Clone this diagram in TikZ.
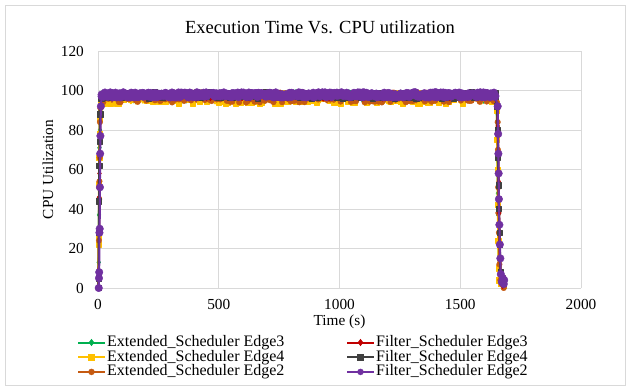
\documentclass[tikz,border=0pt]{standalone}
\usepackage{fontspec}
\setmainfont{Liberation Serif}
\usetikzlibrary{plotmarks}
\definecolor{cgreen}{HTML}{00B050}
\definecolor{cred}{HTML}{C00000}
\definecolor{cyellow}{HTML}{FFC000}
\definecolor{cgray}{HTML}{404040}
\definecolor{corange}{HTML}{C55A11}
\definecolor{cpurple}{HTML}{7030A0}
\definecolor{gridc}{HTML}{D9D9D9}
\newcommand\myseries[9]{%
  \pgfmathsetseed{#4}%
  \tikzset{sline/.style={#1, line width=2pt, line join=round, mark=#2, mark size=#3,
      mark options={solid, fill=#1, draw=#1, line width=0.4pt}}}%
  \draw[sline] plot coordinates {#7};
  \draw[sline] plot[domain=15:1645, samples=#9] (\x, {#5+#6*rand});
  \draw[sline] plot coordinates {#8};
}
\begin{document}
\begin{tikzpicture}[x=1pt,y=1pt,
  gridline/.style={gridc, line width=0.9pt},
  ticklab/.style={font=\fontsize{15.3}{16}\selectfont, inner sep=0pt},
  legtext/.style={font=\fontsize{16}{17}\selectfont, anchor=west, inner sep=0pt},
  legline/.style={line width=2pt}]
\useasboundingbox (0,0) rectangle (631,386);
\draw[gridc, line width=0.9pt] (5.5,0.5) rectangle (625.5,380.5);
\node[font=\fontsize{18.5}{20}\selectfont, inner sep=0pt] (title) at (320,359) {Execution Time Vs. CPU utilization};
% y tick labels
\foreach \v/\n in {0/a,20/b,40/c,60/d,80/e,100/f,120/g}
  \node[ticklab, anchor=east] (y\n) at (84,{98+\v*1.975}) {\v};
\foreach \t/\n in {0/a,500/b,1000/c,1500/d,2000/e}
  \node[ticklab] (x\n) at ({98+\t*0.2415},82) {\t};
\node[ticklab] (xlab) at (339.5,64) {Time (s)};
\node[ticklab, rotate=90] (ylab) at (48,216.5) {CPU Utilization};
\begin{scope}[shift={(98,98)}, x=0.2415pt, y=1.975pt]
  \foreach \v in {0,20,...,120} \draw[gridline] (0,\v) -- (2000,\v);
  \foreach \t in {0,500,...,2000} \draw[gridline] (\t,0) -- (\t,120);
  % Extended Edge3 (green)
  \myseries{cgreen}{diamond*}{2.6pt}{11}{97}{2.3}
    {(3,0) (3,13) (4,37) (5,54) (6,71) (8,80) (9,90) (12,95) (15,97)}
    {(1645,97) (1650,93) (1653,78) (1654,65) (1656,48) (1657,37) (1658,22) (1660,10) (1665,4) (1670,2) (1678,1)}{200}
  % Extended Edge4 (yellow)
  \myseries{cyellow}{square*}{2.6pt}{23}{96.2}{2.9}
    {(2,0) (2,22) (3,26) (4,52) (5,66) (6,78) (7,86) (10,93) (15,96)}
    {(1645,96) (1651,90) (1652,75) (1654,60) (1655,42) (1657,24) (1658,10) (1660,4) (1668,2) (1675,5) (1680,1)}{230}
  % Extended Edge2 (orange)
  \myseries{corange}{*}{2.8pt}{37}{96.5}{2.6}
    {(3,0) (4,24) (5,45) (6,54) (7,66) (8,84) (10,91) (13,96)}
    {(1645,97) (1652,94) (1655,84) (1656,70) (1657,51) (1658,38) (1660,28) (1662,12) (1666,4) (1672,2) (1680,0)}{230}
  % Filter Edge3 (red)
  \myseries{cred}{diamond*}{2.6pt}{41}{97.5}{1.7}
    {(2,0) (3,9) (4,27) (5,46) (6,58) (8,76) (10,89) (14,96)}
    {(1645,97) (1652,91) (1655,82) (1657,67) (1659,54) (1661,38) (1663,27) (1665,8) (1670,3) (1676,1)}{200}
  % Filter Edge4 (gray)
  \myseries{cgray}{square*}{2.6pt}{53}{97.6}{1.6}
    {(2,0) (2,5) (3,28) (4,44) (5,62) (7,74) (9,88) (13,96)}
    {(1645,97) (1652,92) (1655,80) (1656,66) (1658,52) (1660,40) (1662,28) (1664,22) (1666,8) (1670,5) (1676,3) (1680,2)}{200}
  % Filter Edge2 (purple)
  \myseries{cpurple}{*}{3.8pt}{67}{97.8}{1.3}
    {(3,0) (4,5) (5,8) (6,28) (7,30) (8,51) (9,68) (10,77) (12,92) (15,97)}
    {(1645,97) (1655,92) (1657,78) (1658,68) (1659,58) (1660,45) (1662,32) (1664,22) (1666,15) (1668,7) (1672,3) (1676,5) (1680,2) (1682,4)}{600}
\end{scope}
% legend
\foreach \c/\m/\s/\x/\y/\n/\txt in {
  cgreen/diamond*/3.3pt/78/43.5/la/Extended\_Scheduler Edge3,
  cred/diamond*/3.3pt/347/43.5/lb/Filter\_Scheduler Edge3,
  cyellow/square*/3pt/78/28.8/lc/Extended\_Scheduler Edge4,
  cgray/square*/3pt/347/28.8/ld/Filter\_Scheduler Edge4,
  corange/*/3pt/78/14.1/le/Extended\_Scheduler Edge2,
  cpurple/*/3pt/347/14.1/lf/Filter\_Scheduler Edge2} {
  \coordinate (\n s) at (\x,\y);
  \coordinate (\n e) at (\x+27,\y);
  \draw[legline, \c] (\n s) -- (\n e);
  \draw[\c] plot[mark=\m, mark size=\s, mark options={fill=\c, draw=\c}] coordinates {(\x+13.5,\y)};
  \node[legtext] (\n t) at (\x+29,\y) {\txt};
}
\end{tikzpicture}
\end{document}
